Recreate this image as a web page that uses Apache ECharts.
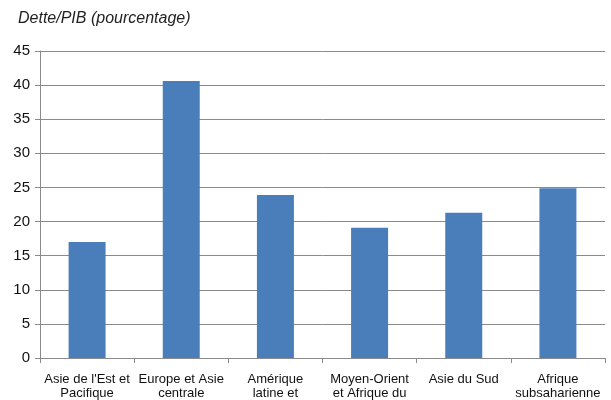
<!DOCTYPE html>
<html>
<head>
<meta charset="utf-8">
<script src="https://cdn.jsdelivr.net/npm/echarts@6/dist/echarts.min.js"></script>
<style>
  html, body { margin: 0; padding: 0; background: #fff; }
  #chart { width: 611px; height: 400px; }
</style>
</head>
<body>
<div id="chart"></div>
<script>
// catégories telles qu'affichées (libellés tronqués dans l'original)
var categories = [
  "Asie de l'Est et\nPacifique",
  'Europe et Asie\ncentrale',
  'Amérique\nlatine et',
  'Moyen-Orient\net Afrique du',
  'Asie du Sud',
  'Afrique\nsubsaharienne'
];
var detteSurPib = [17.0, 40.6, 23.9, 19.1, 21.3, 24.9];
var yTicks = [0, 5, 10, 15, 20, 25, 30, 35, 40, 45];

var myChart = echarts.init(document.getElementById('chart'));

var option = {
  animation: false,
  title: {
    text: 'Dette/PIB (pourcentage)',
    left: 13,
    top: 6,
    textStyle: {
      fontFamily: 'Liberation Sans, Arial, sans-serif',
      fontStyle: 'italic',
      fontWeight: 'normal',
      fontSize: 16,
      color: '#222'
    }
  },
  grid: { left: 40, right: 6, top: 51, bottom: 42 },
  xAxis: {
    type: 'category',
    data: categories,
    axisLine: { lineStyle: { color: '#8a8a8a', width: 1 } },
    axisTick: { show: true, length: 5, lineStyle: { color: '#8a8a8a' } },
    axisLabel: {
      interval: 0,
      margin: 14,
      fontFamily: 'Liberation Sans, Arial, sans-serif',
      fontSize: 13,
      lineHeight: 14,
      color: '#111'
    }
  },
  yAxis: {
    type: 'value',
    min: yTicks[0],
    max: yTicks[yTicks.length - 1],
    interval: 5,
    axisLine: { show: true, lineStyle: { color: '#8a8a8a', width: 1 } },
    axisTick: { show: true, length: 5, lineStyle: { color: '#8a8a8a' } },
    splitLine: { lineStyle: { color: '#8a8a8a', width: 1 } },
    axisLabel: {
      margin: 10,
      fontFamily: 'Liberation Sans, Arial, sans-serif',
      fontSize: 15,
      color: '#111'
    }
  },
  series: [{
    type: 'bar',
    data: detteSurPib,
    barWidth: 37,
    itemStyle: { color: '#4a7ebb' }
  }]
};
myChart.setOption(option);
</script>
</body>
</html>
